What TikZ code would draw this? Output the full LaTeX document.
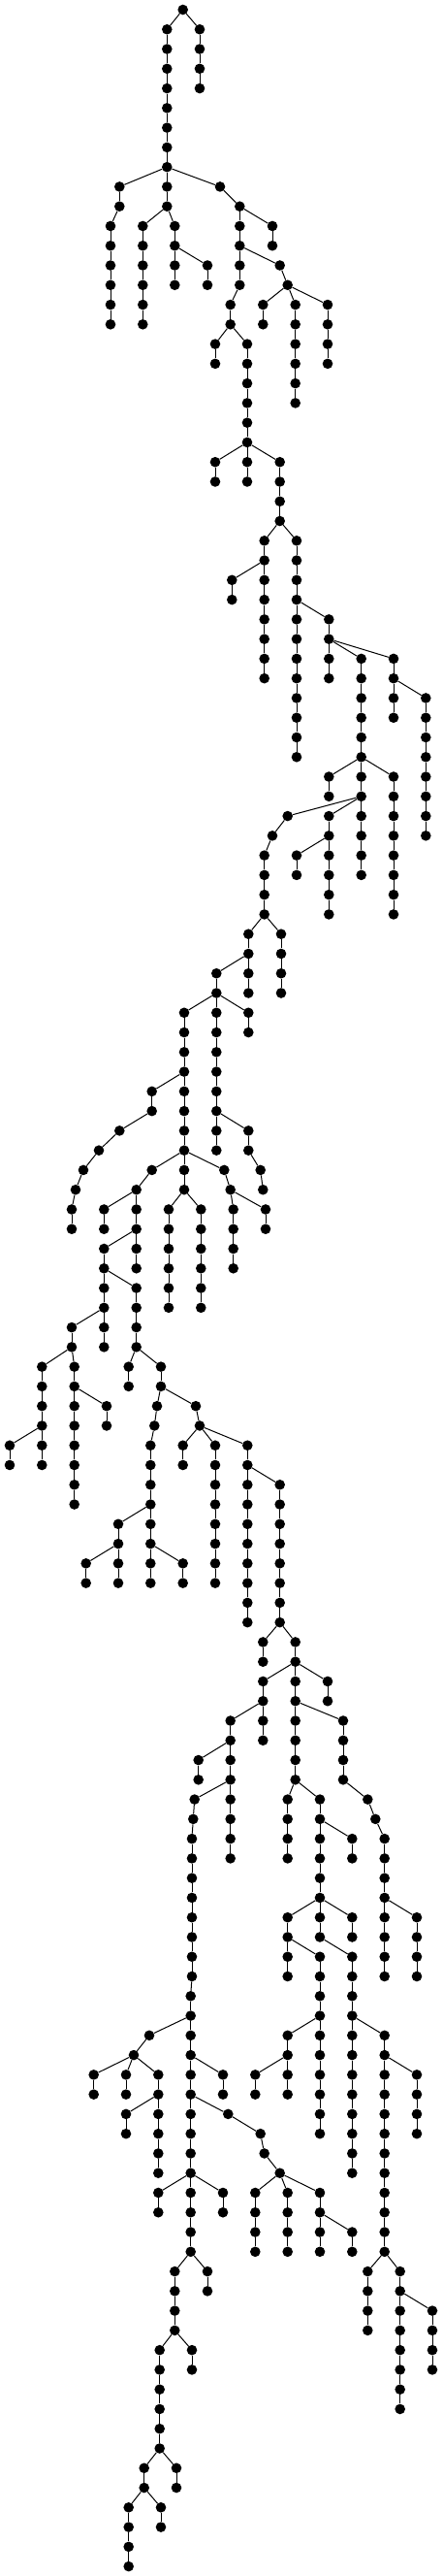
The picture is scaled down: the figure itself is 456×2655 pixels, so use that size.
\documentclass[tikz,border=0pt]{standalone}
\begin{document}
\begin{tikzpicture}[x=1pt,y=1pt,
  dot/.style={circle,fill=black,draw=none,inner sep=0pt,minimum size=10.6pt},
  edge/.style={line width=1pt,black}]
\useasboundingbox (0,0) rectangle (456,-2655);
\newcommand{\chn}[4]{%
  \foreach \l in {#3,...,#4}{\node[dot] (#1-\l) at (#2,{-(10+20.27*\l)}) {};}%
  \ifnum#4>#3\relax
    \pgfmathtruncatemacro{\chs}{#3+1}%
    \foreach \l in {\chs,...,#4}{\pgfmathtruncatemacro{\pl}{\l-1}\draw[edge] (#1-\pl) -- (#1-\l);}%
  \fi}
\newcommand{\ed}[2]{\draw[edge] (#1) -- (#2);}
% chains
\chn{R}{188.7}{0}{0}
\chn{B}{206}{1}{4}
\chn{A}{172.3}{1}{10}
\chn{C}{123.3}{9}{10}
\chn{F}{227}{9}{9}
\chn{G}{247.3}{10}{14}
\chn{D}{114}{11}{16}
\chn{H}{147.3}{11}{16}
\chn{I}{180.3}{11}{14}
\chn{J}{214}{13}{14}
\chn{K}{237.7}{15}{16}
\chn{L}{281}{11}{12}
\chn{M}{288.7}{13}{13}
\chn{N}{296.7}{14}{14}
\chn{O}{271.3}{15}{16}
\chn{P}{304.7}{15}{20}
\chn{Q}{338}{15}{18}
\chn{S}{222}{17}{18}
\chn{T}{255}{17}{22}
\chn{U}{222}{23}{24}
\chn{V}{255}{23}{24}
\chn{W}{288.7}{23}{26}
\chn{X}{272.7}{27}{34}
\chn{Y}{306}{27}{38}
\chn{Z}{239.3}{29}{30}
\chn{AA}{339.3}{31}{34}
\chn{AB}{372.7}{33}{44}
\chn{AC}{406}{33}{36}
\chn{AD}{439.3}{35}{42}
\chn{AE}{339.3}{39}{40}
\chn{AF}{406}{39}{46}
\chn{AG}{296.7}{41}{41}
\chn{AH}{339.3}{41}{46}
\chn{AI}{281}{42}{42}
\chn{AJ}{272.7}{43}{46}
\chn{AK}{306}{43}{44}
\chn{AL}{256.3}{47}{50}
\chn{AM}{290}{47}{50}
\chn{AN}{223.3}{49}{58}
\chn{AO}{190}{51}{58}
\chn{AP}{256.3}{51}{52}
\chn{AQ}{256.3}{57}{58}
\chn{AR}{268.7}{59}{59}
\chn{AS}{271.3}{60}{60}
\chn{AT}{156.7}{55}{56}
\chn{AU}{123.3}{57}{57}
\chn{AV}{102}{58}{58}
\chn{AW}{86}{59}{59}
\chn{AX}{78}{60}{60}
\chn{AY}{74}{61}{62}
\chn{AZ}{156.7}{59}{59}
\chn{BA}{190}{59}{60}
\chn{BB}{231.3}{59}{59}
\chn{BC}{140.7}{60}{64}
\chn{BD}{107.3}{61}{62}
\chn{BE}{107.3}{63}{68}
\chn{BF}{140.7}{65}{68}
\chn{BG}{174}{61}{66}
\chn{BH}{207.3}{61}{66}
\chn{BI}{237.7}{60}{60}
\chn{BJ}{240.7}{61}{64}
\chn{BK}{274}{61}{62}
\chn{BL}{74}{67}{68}
\chn{BM}{43.3}{69}{74}
\chn{BN}{76.7}{69}{76}
\chn{BO}{10}{73}{74}
\chn{BP}{110}{71}{72}
\chn{BQ}{132.7}{69}{70}
\chn{BR}{166}{69}{70}
\chn{BS}{162}{71}{71}
\chn{BT}{159.3}{72}{72}
\chn{BU}{155.3}{73}{80}
\chn{BV}{202}{71}{71}
\chn{BW}{206}{72}{72}
\chn{BX}{188.7}{73}{74}
\chn{BY}{222}{73}{80}
\chn{BZ}{255.3}{73}{82}
\chn{CA}{288.7}{75}{82}
\chn{CB}{122}{77}{80}
\chn{CC}{188.7}{79}{80}
\chn{CD}{88.7}{79}{80}
\chn{CE}{271.3}{83}{84}
\chn{CF}{304.7}{83}{84}
\chn{CG}{271.3}{85}{88}
\chn{CH}{304.7}{85}{90}
\chn{CI}{338}{85}{86}
\chn{CJ}{237.7}{87}{94}
\chn{CK}{354}{87}{90}
\chn{CL}{379.3}{91}{91}
\chn{CM}{387.3}{92}{92}
\chn{CN}{396.7}{93}{100}
\chn{CO}{430}{97}{100}
\chn{CP}{204.7}{89}{90}
\chn{CQ}{200.7}{91}{91}
\chn{CR}{199.3}{92}{92}
\chn{CS}{198}{93}{100}
\chn{CT}{196.7}{101}{114}
\chn{CU}{154}{103}{103}
\chn{CV}{138}{104}{104}
\chn{CW}{96.7}{105}{106}
\chn{CX}{130}{105}{106}
\chn{CY}{163.3}{105}{110}
\chn{CZ}{130}{107}{108}
\chn{DA}{230}{105}{106}
\chn{DB}{235.3}{107}{107}
\chn{DC}{268.7}{108}{108}
\chn{DD}{272.7}{109}{109}
\chn{DE}{288.7}{110}{110}
\chn{DF}{163.3}{111}{112}
\chn{DG}{230}{111}{112}
\chn{DH}{180.3}{115}{118}
\chn{DI}{214}{115}{116}
\chn{DJ}{164.7}{119}{124}
\chn{DK}{198}{119}{120}
\chn{DL}{148.7}{125}{126}
\chn{DM}{182}{125}{126}
\chn{DN}{132.7}{127}{130}
\chn{DO}{166}{127}{128}
\chn{DP}{263.3}{111}{114}
\chn{DQ}{296.7}{111}{114}
\chn{DR}{330}{111}{114}
\chn{DS}{363.3}{113}{114}
\chn{DT}{296.7}{91}{94}
\chn{DU}{330}{91}{98}
\chn{DV}{363.3}{93}{94}
\chn{DW}{296.7}{97}{100}
\chn{DX}{363.3}{97}{98}
\chn{DY}{330}{99}{108}
\chn{DZ}{363.3}{99}{110}
\chn{EA}{296.7}{103}{106}
\chn{EB}{263.3}{105}{106}
\chn{EC}{396.7}{103}{114}
\chn{ED}{430}{105}{108}
\chn{EE}{379.3}{115}{118}
\chn{EF}{412.7}{115}{122}
\chn{EG}{446}{117}{120}
% branch edges
\ed{R-0}{A-1}\ed{R-0}{B-1}
\ed{A-8}{C-9}\ed{A-8}{F-9}
\ed{C-10}{D-11}\ed{A-10}{H-11}\ed{A-10}{I-11}\ed{I-12}{J-13}
\ed{F-9}{G-10}\ed{G-10}{L-11}\ed{G-12}{M-13}\ed{M-13}{N-14}\ed{G-14}{K-15}
\ed{N-14}{O-15}\ed{N-14}{P-15}\ed{N-14}{Q-15}
\ed{K-16}{S-17}\ed{K-16}{T-17}
\ed{T-22}{U-23}\ed{T-22}{V-23}\ed{T-22}{W-23}
\ed{W-26}{X-27}\ed{W-26}{Y-27}\ed{X-28}{Z-29}\ed{Y-30}{AA-31}
\ed{AA-32}{AB-33}\ed{AA-32}{AC-33}\ed{AC-34}{AD-35}
\ed{AB-38}{AE-39}\ed{AB-38}{AF-39}\ed{AB-40}{AG-41}\ed{AB-40}{AH-41}
\ed{AG-41}{AI-42}\ed{AI-42}{AJ-43}\ed{AH-42}{AK-43}
\ed{AJ-46}{AL-47}\ed{AJ-46}{AM-47}\ed{AL-48}{AN-49}
\ed{AN-50}{AO-51}\ed{AN-50}{AP-51}\ed{AN-56}{AQ-57}\ed{AQ-58}{AR-59}\ed{AR-59}{AS-60}
\ed{AO-54}{AT-55}\ed{AT-56}{AU-57}\ed{AU-57}{AV-58}\ed{AV-58}{AW-59}\ed{AW-59}{AX-60}\ed{AX-60}{AY-61}
\ed{AO-58}{AZ-59}\ed{AO-58}{BA-59}\ed{AO-58}{BB-59}
\ed{AZ-59}{BC-60}\ed{BC-60}{BD-61}\ed{BC-62}{BE-63}\ed{BE-64}{BF-65}
\ed{BA-60}{BG-61}\ed{BA-60}{BH-61}\ed{BB-59}{BI-60}\ed{BI-60}{BJ-61}\ed{BI-60}{BK-61}
\ed{BE-66}{BL-67}\ed{BL-68}{BM-69}\ed{BL-68}{BN-69}\ed{BM-72}{BO-73}\ed{BN-70}{BP-71}
\ed{BF-68}{BQ-69}\ed{BF-68}{BR-69}\ed{BR-70}{BS-71}\ed{BR-70}{BV-71}
\ed{BS-71}{BT-72}\ed{BT-72}{BU-73}\ed{BV-71}{BW-72}
\ed{BW-72}{BX-73}\ed{BW-72}{BY-73}\ed{BW-72}{BZ-73}\ed{BZ-74}{CA-75}
\ed{BU-76}{CB-77}\ed{BU-78}{CC-79}\ed{CB-78}{CD-79}
\ed{CA-82}{CE-83}\ed{CA-82}{CF-83}
\ed{CF-84}{CG-85}\ed{CF-84}{CH-85}\ed{CF-84}{CI-85}
\ed{CG-86}{CJ-87}\ed{CH-86}{CK-87}\ed{CK-90}{CL-91}\ed{CL-91}{CM-92}\ed{CM-92}{CN-93}\ed{CN-96}{CO-97}
\ed{CJ-88}{CP-89}\ed{CJ-90}{CQ-91}\ed{CQ-91}{CR-92}\ed{CR-92}{CS-93}\ed{CS-100}{CT-101}
\ed{CT-102}{CU-103}\ed{CU-103}{CV-104}
\ed{CV-104}{CW-105}\ed{CV-104}{CX-105}\ed{CV-104}{CY-105}\ed{CY-106}{CZ-107}
\ed{CT-104}{DA-105}\ed{CT-106}{DB-107}\ed{DB-107}{DC-108}\ed{DC-108}{DD-109}\ed{DD-109}{DE-110}
\ed{CT-110}{DF-111}\ed{CT-110}{DG-111}\ed{CT-114}{DH-115}\ed{CT-114}{DI-115}
\ed{DH-118}{DJ-119}\ed{DH-118}{DK-119}\ed{DJ-124}{DL-125}\ed{DJ-124}{DM-125}
\ed{DL-126}{DN-127}\ed{DL-126}{DO-127}
\ed{DE-110}{DP-111}\ed{DE-110}{DQ-111}\ed{DE-110}{DR-111}\ed{DR-112}{DS-113}
\ed{CH-90}{DT-91}\ed{CH-90}{DU-91}\ed{DU-92}{DV-93}
\ed{DU-96}{DW-97}\ed{DU-96}{DX-97}\ed{DW-98}{DY-99}\ed{DU-98}{DZ-99}
\ed{DY-102}{EA-103}\ed{EA-104}{EB-105}\ed{DZ-102}{EC-103}\ed{EC-104}{ED-105}
\ed{EC-114}{EE-115}\ed{EC-114}{EF-115}\ed{EF-116}{EG-117}
\end{tikzpicture}
\end{document}
